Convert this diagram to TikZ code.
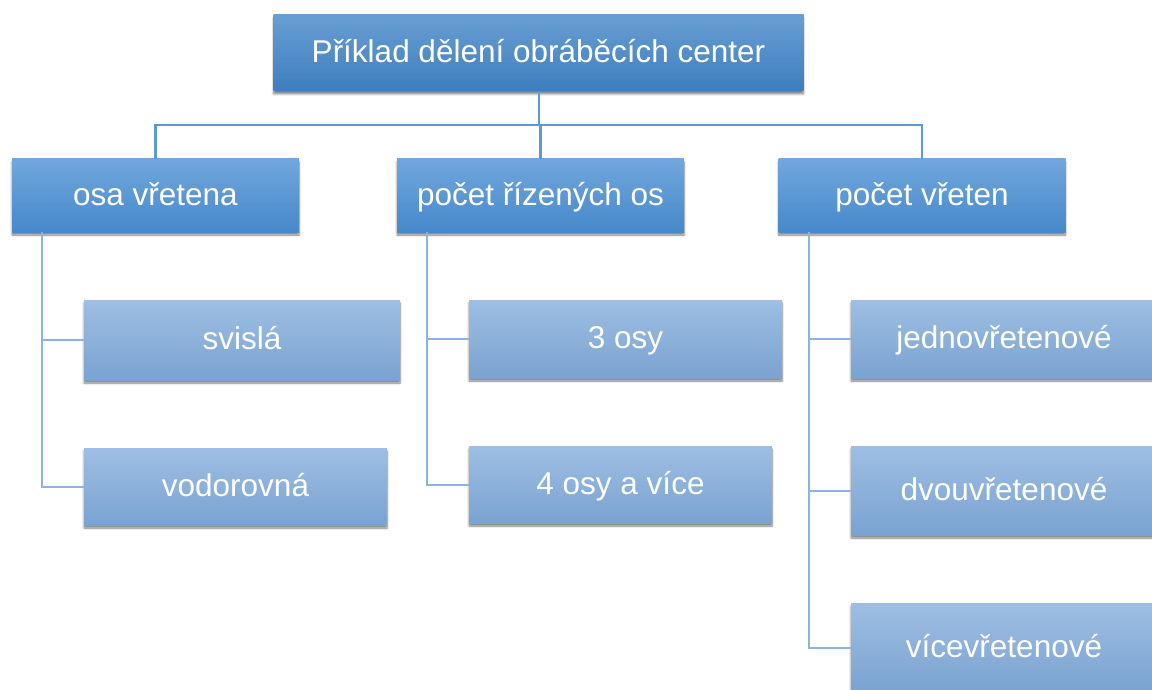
\documentclass[tikz,border=0pt]{standalone}
\usepackage{fontspec}
\setmainfont{Liberation Sans}
\usepackage{tikz}
\usetikzlibrary{shadows.blur}
\usetikzlibrary{positioning}
\definecolor{headtop}{RGB}{104,158,210}
\definecolor{headbot}{RGB}{62,126,190}
\definecolor{midtop}{RGB}{113,167,221}
\definecolor{midbot}{RGB}{70,136,202}
\definecolor{leaftop}{RGB}{158,190,227}
\definecolor{leafbot}{RGB}{122,163,208}
\definecolor{busline}{RGB}{91,155,213}
\definecolor{leafline}{RGB}{141,179,226}
\tikzset{
  box/.style={rectangle, inner sep=0pt, text=white, align=center,
    text height=23pt, text depth=4pt,
    font=\fontsize{31.5}{36}\selectfont,
    blur shadow={shadow xshift=0pt, shadow yshift=-3pt, shadow blur steps=6, shadow opacity=50}},
  head/.style={box, top color=headtop, bottom color=headbot},
  mid/.style={box, top color=midtop, bottom color=midbot, minimum width=287pt, minimum height=73pt},
  leaf/.style={box, top color=leaftop, bottom color=leafbot},
  bus/.style={draw=busline, line width=2.5pt},
  twig/.style={draw=leafline, line width=2pt}
}
\begin{document}
\begin{tikzpicture}[x=1pt, y=-1pt]
\useasboundingbox (0,0) rectangle (1152,690);
\node(T) [head, minimum width=530pt, minimum height=76pt] at (538.5,53) {Příklad dělení obráběcích center};
\node(A) [mid] at (155.5,195.5) {osa vřetena};
\node(B) [mid] at (540.5,195.5) {počet řízených os};
\node(C) [mid] at (922,195.5) {počet vřeten};
\node(A1) [leaf, minimum width=316pt, minimum height=80pt] at (242,340) {svislá};
\node(A2) [leaf, minimum width=303pt, minimum height=77pt] at (235.5,486.5) {vodorovná};
\node(B1) [leaf, minimum width=313pt, minimum height=78pt] at (625.5,339) {3 osy};
\node(B2) [leaf, minimum width=303pt, minimum height=77pt] at (620.5,484.5) {4 osy a více};
\node(C1) [leaf, minimum width=306pt, minimum height=78pt] at (1004,339) {jednovřetenové};
\node(C2) [leaf, minimum width=306pt, minimum height=89pt] at (1004,490.5) {dvouvřetenové};
\node(C3) [leaf, minimum width=306pt, minimum height=89pt] at (1004,647.5) {vícevřetenové};
\coordinate(bus) at (539,125);
\coordinate(At) at (42,232);
\coordinate(Bt) at (427,232);
\coordinate(Ct) at (809,232);
\draw[bus] (T.south -| bus) -- (bus);
\draw[bus] (bus) -| (A.north);
\draw[bus] (bus) -| (B.north);
\draw[bus] (bus) -| (C.north);
\draw[twig] (At) |- (A1.west);
\draw[twig] (At) |- (A2.west);
\draw[twig] (Bt) |- (B1.west);
\draw[twig] (Bt) |- (B2.west);
\draw[twig] (Ct) |- (C1.west);
\draw[twig] (Ct) |- (C2.west);
\draw[twig] (Ct) |- (C3.west);
\end{tikzpicture}
\end{document}
